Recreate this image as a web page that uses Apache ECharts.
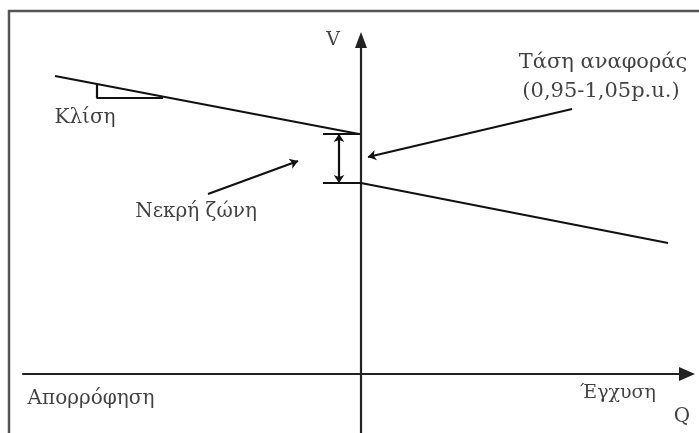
<!DOCTYPE html>
<html>
<head>
<meta charset="utf-8">
<script src="https://cdn.jsdelivr.net/npm/echarts@6/dist/echarts.min.js"></script>
<style>
  html, body { margin: 0; padding: 0; background: #fff; }
  #main { width: 699px; height: 433px; }
</style>
</head>
<body>
<div id="main"></div>
<script>
// schematic units: origin where V and Q axes cross
var upperLine = [[-306, 298], [-2, 240]];
var lowerLine = [[0, 191], [307, 131]];
var slopeTriangle = [[-264, 290], [-264, 276], [-198, 276]];
var deadZoneTop = [[-38, 240], [-1, 240]];
var deadZoneBottom = [[-38, 191], [0, 191]];
var deadZoneSpan = [[-22, 240], [-22, 191]];
var deadZoneArrow = [[-153, 180], [-63, 213]];
var refArrow = [[211, 265], [7, 217]];

var labelNames = ['Κλίση', 'Νεκρή ζώνη', 'Τάση αναφοράς', '(0,95-1,05p.u.)', 'V', 'Q', 'Απορρόφηση', 'Έγχυση'];
var labelPos = [[-276, 256], [-165, 162], [242, 311], [240, 282], [-28, 334], [321, -43], [-270, -25], [257, -19]];
var labelSize = [20, 20, 21, 21, 19, 20, 20, 19];

var myChart = echarts.init(document.getElementById('main'));

var ink = '#111';
var font = 'DejaVu Serif';

function seg(data) {
    return {
        type: 'line',
        data: data,
        symbol: 'none',
        silent: true,
        animation: false,
        lineStyle: { color: ink, width: 2.2 }
    };
}

function arrow(coords, both) {
    return {
        type: 'lines',
        coordinateSystem: 'cartesian2d',
        symbol: both ? ['arrow', 'arrow'] : ['none', 'arrow'],
        symbolSize: 8,
        silent: true,
        animation: false,
        lineStyle: { color: ink, width: 2.2, opacity: 1 },
        data: [{ coords: coords }]
    };
}

var labelData = labelNames.map(function (n, i) {
    return { value: labelPos[i], name: n, fontSize: labelSize[i] };
});

var option = {
    backgroundColor: '#fff',
    animation: false,
    grid: { left: 23, right: 12, top: 40, bottom: 0 },
    xAxis: {
        type: 'value', min: -338, max: 326,
        axisLine: { onZero: true, symbol: ['none', 'triangle'], symbolSize: [14, 16], lineStyle: { color: '#222', width: 2.2 } },
        axisTick: { show: false }, axisLabel: { show: false }, splitLine: { show: false }
    },
    yAxis: {
        type: 'value', min: -59, max: 334,
        axisLine: { onZero: true, symbol: ['none', 'triangle'], symbolSize: [12, 16], lineStyle: { color: '#222', width: 2.2 } },
        axisTick: { show: false }, axisLabel: { show: false }, splitLine: { show: false }
    },
    graphic: [{
        type: 'rect',
        shape: { x: 9, y: 11, width: 720, height: 450 },
        style: { fill: 'none', stroke: '#555', lineWidth: 2.5 },
        silent: true
    }],
    series: [
        seg(upperLine),
        seg(lowerLine),
        seg(slopeTriangle),
        seg(deadZoneTop),
        seg(deadZoneBottom),
        arrow(deadZoneSpan, true),
        arrow(deadZoneArrow),
        arrow(refArrow),
        {
            type: 'scatter',
            symbolSize: 0,
            silent: true,
            data: labelData.map(function (d) {
                return {
                    value: d.value,
                    name: d.name,
                    label: {
                        show: true,
                        position: 'inside',
                        formatter: d.name,
                        color: ink,
                        fontFamily: font,
                        fontSize: d.fontSize
                    }
                };
            })
        }
    ]
};

myChart.setOption(option);
</script>
</body>
</html>
